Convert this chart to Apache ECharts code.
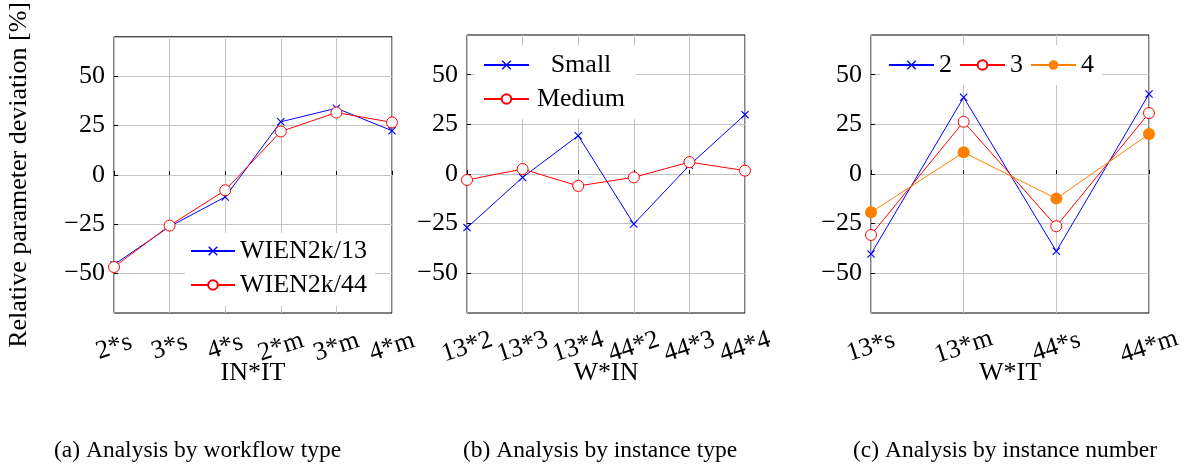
<!DOCTYPE html>
<html>
<head>
<meta charset="utf-8">
<script src="https://cdn.jsdelivr.net/npm/echarts@6/dist/echarts.min.js"></script>
<style>
  html, body { margin: 0; padding: 0; background: #fff; }
  #chart { width: 1192px; height: 471px; }
</style>
</head>
<body>
<div id="chart"></div>
<script>
// 数据
const catsA = ['2*s', '3*s', '4*s', '2*m', '3*m', '4*m'];
const wien13 = [-45.5, -26.2, -11.2, 26.9, 33.8, 22.4];
const wien44 = [-46.7, -25.7, -7.8, 22.0, 31.6, 26.6];

const catsB = ['13*2', '13*3', '13*4', '44*2', '44*3', '44*4'];
const small = [-27.0, -1.7, 19.3, -25.2, 4.4, 29.9];
const medium = [-3.0, 2.5, -6.0, -1.7, 6.0, 1.7];

const catsC = ['13*s', '13*m', '44*s', '44*m'];
const inst2 = [-40.3, 38.6, -38.9, 40.3];
const inst3 = [-30.7, 26.3, -26.3, 30.7];
const inst4 = [-19.3, 10.9, -12.4, 20.1];

const yTicks = [-50, -25, 0, 25, 50];

const FONT = 'Liberation Serif';
const FS = 26;
const BLUE = '#0000ff', RED = '#ff0000', ORANGE = '#ff8000';
const CROSS = 'path://M0,1L1,0L5,4L9,0L10,1L6,5L10,9L9,10L5,6L1,10L0,9L4,5Z';

let chart = echarts.init(document.getElementById('chart'));

function xAxisFor(idx, cats, name) {
  return {
    type: 'category', gridIndex: idx, data: cats, boundaryGap: false,
    name: name, nameLocation: 'middle', nameGap: 47, nameMoveOverlap: false,
    nameTextStyle: { fontFamily: FONT, fontSize: FS, color: '#000' },
    axisLine: { show: false },
    axisTick: { show: true, inside: true, length: 4, lineStyle: { color: '#000' } },
    axisLabel: { rotate: 18, align: 'center', verticalAlign: 'middle', margin: 34, interval: 0,
      fontFamily: FONT, fontSize: FS, color: '#000' },
    splitLine: { show: true, lineStyle: { color: '#c4c4c4', width: 1 } }
  };
}

function yAxisFor(idx, name) {
  return {
    type: 'value', gridIndex: idx, min: -70, max: 70,
    name: name, nameLocation: 'middle', nameGap: 82, nameMoveOverlap: false,
    nameTextStyle: { fontFamily: FONT, fontSize: FS, color: '#000' },
    axisLine: { show: false },
    axisTick: { show: true, inside: true, length: 4, customValues: yTicks, lineStyle: { color: '#000' } },
    axisLabel: { customValues: yTicks, margin: 9, fontFamily: FONT, fontSize: FS, color: '#000',
      formatter: v => (v < 0 ? '\u2212' + Math.abs(v) : '' + v) },
    splitLine: { show: true, lineStyle: { color: '#c4c4c4', width: 1 } }
  };
}

function lineSeries(name, idx, data, color, symbol, size, filled) {
  return {
    name: name, type: 'line', xAxisIndex: idx, yAxisIndex: idx, data: data,
    symbol: symbol, symbolSize: size, showAllSymbol: true,
    lineStyle: { color: color, width: 1 },
    itemStyle: { color: filled === false ? '#fff' : color, borderColor: color, borderWidth: filled === false ? 1 : 0 }
  };
}

const legendText = { fontFamily: FONT, fontSize: FS, color: '#000', lineHeight: 25 };

chart.setOption({
  animation: false,
  grid: [
    { left: 114, top: 35, width: 278, height: 278, show: true, borderColor: '#000', borderWidth: 1, backgroundColor: 'transparent' },
    { left: 467, top: 35, width: 278, height: 278, show: true, borderColor: '#000', borderWidth: 1, backgroundColor: 'transparent' },
    { left: 871, top: 35, width: 278, height: 278, show: true, borderColor: '#000', borderWidth: 1, backgroundColor: 'transparent' }
  ],
  xAxis: [
    xAxisFor(0, catsA, 'IN*IT'),
    xAxisFor(1, catsB, 'W*IN'),
    xAxisFor(2, catsC, 'W*IT')
  ],
  yAxis: [
    yAxisFor(0, 'Relative parameter deviation [%]'),
    yAxisFor(1, ''),
    yAxisFor(2, '')
  ],
  legend: [
    { data: ['WIEN2k/13', 'WIEN2k/44'], orient: 'vertical', left: 185, top: 233, padding: [5, 8, 8, 5],
      itemWidth: 44, itemHeight: 12, itemGap: 8, backgroundColor: '#fff', textStyle: legendText },
    { data: ['Small', 'Medium'], orient: 'vertical', left: 475, top: 45, padding: [7, 8],
      itemWidth: 45, itemHeight: 12, itemGap: 8, backgroundColor: '#fff',
      formatter: '{c|{name}}',
      textStyle: Object.assign({ rich: { c: { width: 94, align: 'center', fontFamily: FONT, fontSize: FS, color: '#000' } } }, legendText) },
    { data: ['2', '3', '4'], orient: 'horizontal', left: 880, top: 45, padding: [7, 8],
      itemWidth: 45, itemHeight: 12, itemGap: 7, backgroundColor: '#fff', textStyle: legendText }
  ],
  series: [
    lineSeries('WIEN2k/13', 0, wien13, BLUE, CROSS, 8),
    lineSeries('WIEN2k/44', 0, wien44, RED, 'circle', 11, false),
    lineSeries('Small', 1, small, BLUE, CROSS, 8),
    lineSeries('Medium', 1, medium, RED, 'circle', 11, false),
    lineSeries('2', 2, inst2, BLUE, CROSS, 8),
    lineSeries('3', 2, inst3, RED, 'circle', 11, false),
    lineSeries('4', 2, inst4, ORANGE, 'circle', 12)
  ],
  graphic: [
    { type: 'text', left: 54, top: 439, style: { text: '(a) Analysis by workflow type', font: '23.5px "Liberation Serif"', fill: '#000' } },
    { type: 'text', left: 463, top: 439, style: { text: '(b) Analysis by instance type', font: '23.5px "Liberation Serif"', fill: '#000' } },
    { type: 'text', left: 853, top: 439, style: { text: '(c) Analysis by instance number', font: '23.5px "Liberation Serif"', fill: '#000' } }
  ]
});
</script>
</body>
</html>
